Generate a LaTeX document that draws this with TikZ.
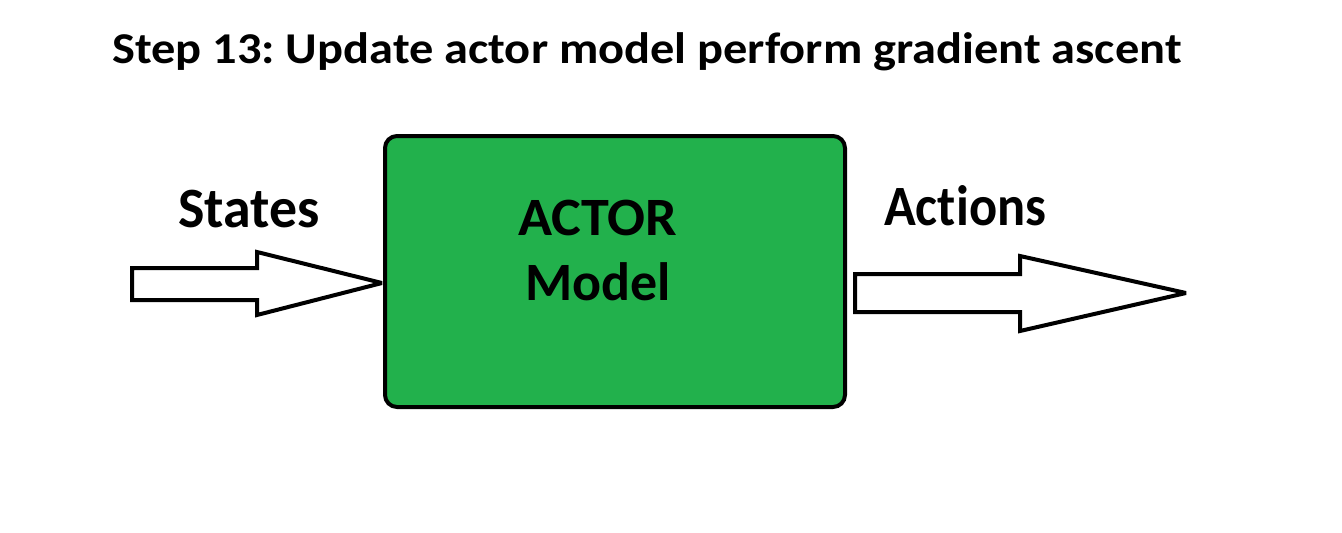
\documentclass[tikz,border=0pt]{standalone}
\usepackage{fontspec}
\setmainfont{Carlito}[Ligatures=NoCommon]
\definecolor{paintgreen}{RGB}{34,177,76}
\frenchspacing
\begin{document}
\begin{tikzpicture}[x=1pt,y=-1pt,
  lbl/.style={inner sep=0pt,anchor=base west,font=\bfseries},
  blockarrow/.style={draw=black,fill=white,line width=4pt,line join=miter,miter limit=3},
  actorbox/.style={draw=black,fill=paintgreen,line width=4pt,rounded corners=12pt}]
\useasboundingbox (0,0) rectangle (1342,533);
\fill[white] (0,0) rectangle (1342,533);
% title
\node[lbl,font=\bfseries\fontsize{44}{50}\selectfont] (title) at (112,63) {\scalebox{1.1}[1]{Step 13: Update actor model perform gradient ascent}};
% actor box
\draw[actorbox] (385,136) rectangle (845,407);
\node[lbl,font=\bfseries\fontsize{54}{60}\selectfont] (actor) at (518,235) {\scalebox{1.04}[1]{ACTOR}};
\node[lbl,font=\bfseries\fontsize{54}{60}\selectfont] (model) at (525,300) {Model};
% input arrow
\draw[blockarrow] (132,268) -- (257,268) -- (257,252) -- (382,283) -- (257,315) -- (257,300) -- (132,300) -- cycle;
% output arrow
\draw[blockarrow] (855,274) -- (1020,274) -- (1020,256) -- (1186,293) -- (1020,331) -- (1020,312) -- (855,312) -- cycle;
\node[lbl,font=\bfseries\fontsize{57}{62}\selectfont] (states) at (178,227) {\scalebox{0.98}[1]{States}};
\node[lbl,font=\bfseries\fontsize{57}{62}\selectfont] (actions) at (884,225) {\scalebox{0.92}[1]{Actions}};
\end{tikzpicture}
\end{document}
